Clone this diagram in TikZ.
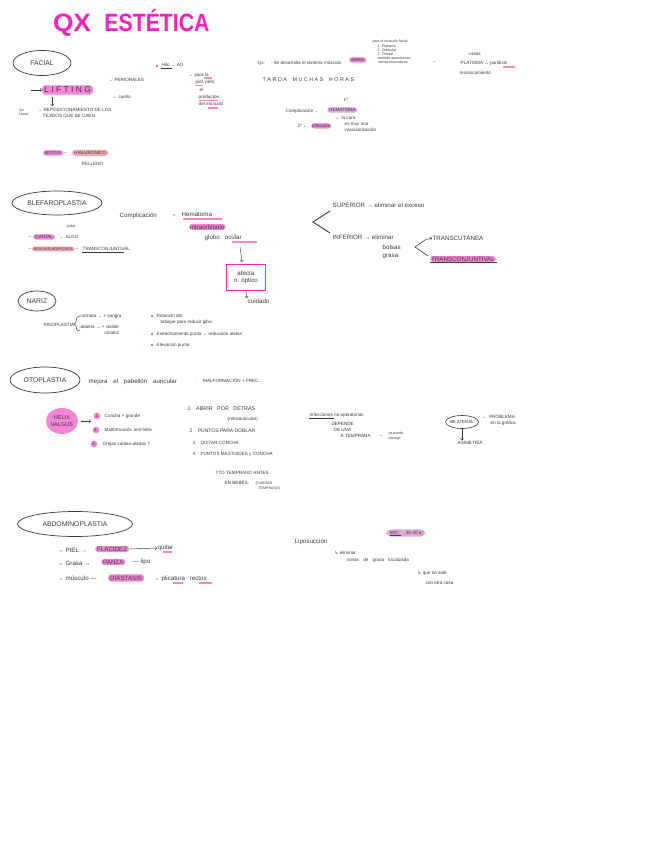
\documentclass[tikz,border=0pt]{standalone}
\usepackage{fontspec}
\setmainfont{Liberation Sans}
\newfontfamily\djv{DejaVu Sans}
\usepackage{graphicx}
\usetikzlibrary{shapes.geometric,arrows.meta}
\definecolor{ink}{HTML}{3A3A3A}
\definecolor{mag}{HTML}{FF1EC0}
\definecolor{hlp}{HTML}{F585D8}
\definecolor{hls}{HTML}{F2A9B0}
\definecolor{hll}{HTML}{E0A8D8}
\tikzset{
 tsm/.style={anchor=west,inner sep=0.5pt,text=ink,font=\fontsize{4.6}{5.8}\selectfont,align=left},
 txs/.style={anchor=west,inner sep=0.3pt,text=ink,font=\fontsize{3.6}{4.2}\selectfont,align=left},
 tmd/.style={anchor=west,inner sep=0.5pt,text=ink,font=\fontsize{6.2}{7.4}\selectfont,align=left},
 tlg/.style={anchor=west,inner sep=0.5pt,text=ink,font=\fontsize{8.5}{9.5}\selectfont},
 ttl/.style={text=mag,inner sep=0pt,anchor=base,font=\fontsize{25}{25}\selectfont\bfseries},
 hl/.style={fill=hlp,rounded corners=3pt,inner xsep=2pt,inner ysep=1.5pt},
 hs/.style={fill=hls,rounded corners=3pt,inner xsep=2pt,inner ysep=1.5pt},
 hlv/.style={fill=hll,rounded corners=3pt,inner xsep=2pt,inner ysep=1.5pt},
 ell/.style={ellipse,draw=ink,line width=0.7pt,inner sep=0pt,text=ink,font=\fontsize{6.8}{8}\selectfont},
 arr/.style={-{Straight Barb[length=1.6pt]},draw=ink,line width=0.45pt},
 lin/.style={draw=ink,line width=0.6pt},
 bul/.style={circle,fill=mag,inner sep=0pt,minimum size=2.2pt},
 ul/.style={draw=hlp,line width=1.2pt},
}
\begin{document}
\begin{tikzpicture}[x=1pt,y=-1pt]
\useasboundingbox[fill=white] (0,0) rectangle (646,848);

% title
\node[ttl] (titleqx) at (72,32) {\scalebox{1.05}[1]{QX}};
\node[ttl] (titlees) at (157,32) {\scalebox{0.85}[1]{ESTÉTICA}};

% ================= FACIAL
\node[ell,minimum width=58,minimum height=25] (facial) at (42,63) {FACIAL};
\node[tlg,hl,font=\fontsize{8.5}{9.5}\selectfont] (lift) at (42,90) {L I F T I N G};
\coordinate (liftin) at (31,90);
\draw[arr] (liftin) -- (lift.west);
\node[tsm] (peri) at (108,80) {→ PERIORALES};
\node[tsm] (cuel) at (112,97) {→ cuello};
\node[txs] (qxf) at (19,112) {Qx\\facial.};
\node[tsm] (repos) at (37,113) {→ REPOSICIONAMIENTO DE LOS\\\hspace*{5pt}TEJIDOS QUE SE CAEN};
\draw[arr] (52,97) -- (52,106);
\node[tsm,hl,inner ysep=1pt] (botox) at (43,153) {BOTOX};
\node[tsm] (botar) at (63,153) {←};
\node[tsm,hs,inner ysep=1pt] (hial) at (72,153) {HIALURÓNICO};
\node[tsm] (rell) at (81,164) {RELLENO};

\node[bul] (b1) at (157,66) {};
\node[tsm] (hilo) at (161,65) {Hilo → AO};
\draw[lin,line width=0.4pt] (161,68.5) -- (172,68.5);
\node[tsm] (parala) at (188,75) {→ para la};
\node[tsm] (piel) at (195,82) {piel, pelo};
\node[tsm] (el) at (199,90) {el};
\node[tsm] (prod) at (198,97) {productos};
\node[tsm] (delm) at (198,104) {del músculo};
\draw[ul] (204,78) -- (212,78);
\draw[ul] (195,85.5) -- (203,85.5);
\draw[ul] (199,100.5) -- (218,100.5);
\draw[ul] (208,108) -- (218,108);

\node[tsm] (qx) at (257,63) {Qx:\hspace{6pt}· Se desarrolla el sistema músculo};
\node[tsm,hl,inner ysep=1pt] (smas) at (349,60) {SMAS};
\node[tsm] (smasd) at (364,61) {:};
\node[txs] (paraelm) at (372,52) {para el músculo facial:\\\hspace*{5pt}1. Platisma\\\hspace*{5pt}2. Orbicular\\\hspace*{5pt}3. Frontal\\\hspace*{5pt}también aponeurosis\\\hspace*{6pt}temas musculares.};
\node[tsm] (arq) at (431,62) {→};
\node[tsm] (vasos) at (468,54) {vasos};
\node[tsm] (plat) at (460,63) {PLATISMA → parálisis};
\draw[ul] (503,67) -- (515,67);
\node[tsm] (recol) at (459,73) {recolocamiento};
\node[tsm,font=\fontsize{5.4}{6}\selectfont] (tarda) at (262,80) {T A R D A\hspace{4pt} M U C H A S\hspace{4pt} H O R A S};

\node[tsm] (uno) at (343,100) {1º};
\node[tsm] (compl) at (285,111) {Complicación ←};
\node[tsm,hlv,inner ysep=1pt] (hemat) at (327,110) {HEMATOMA};
\node[tsm] (dos) at (297,126) {2º ←};
\node[tsm,hl,inner ysep=0.8pt,inner xsep=1pt] (infec) at (311,126) {infección};
\node[tsm] (lacara) at (335,124) {← la cara\\\hspace*{9pt}es muy rica\\\hspace*{9pt}vascularización};

% ================= BLEFAROPLASTIA
\node[ell,minimum width=90,minimum height=24] (blef) at (57,203) {BLEFAROPLASTIA};
\node[tmd] (complb) at (119,216) {Complicación};
\node[tmd] (complar) at (171,216) {←};
\node[tmd] (hema2) at (181,214) {Hematoma};
\draw[ul] (183,219) -- (222,219);
\node[tmd,hl,inner ysep=0.6pt,inner xsep=1pt] (intra) at (189,227) {intraorbitario};
\node[tmd] (globo) at (204,238) {globo\hspace{5pt}ocular};
\draw[ul] (232,242) -- (257,242);
\node[tmd,draw=mag,line width=0.7pt,anchor=north west,inner sep=2pt,align=center,minimum width=39,minimum height=26] (nopt) at (226,264) {afecta\\n. óptico};
\draw[arr] (240,247) -- (242,262);
\node[tmd] (cuid) at (247,301) {cuidado};
\draw[arr] (nopt.south) -- (cuid.north west);

\node[txs] (quitb) at (66,227) {quitar};
\node[tsm] (ar1) at (27,237) {→};
\node[tsm,hl,inner ysep=1pt] (cantal) at (33,237) {CANTAL};
\node[tsm] (algo) at (59,237) {← ALGO};
\node[tsm] (ar2) at (27,249) {→};
\node[tsm,hs,inner ysep=1pt,font=\fontsize{4.1}{5}\selectfont] (bolsas) at (32,249) {BOLSAS ADIPOSAS};
\node[tsm] (ar3) at (75,249) {←};
\node[tsm] (transc) at (82,249) {TRANSCONJUNTIVAL};
\draw[ink,line width=0.35pt] (82,252.5) -- (124,252.5);

\node[tmd] (sup) at (332,205) {SUPERIOR → eliminar el exceso};
\node[tmd] (inf) at (332,237) {INFERIOR → eliminar};
\node[tmd] (bolg) at (382,252) {\hspace*{0pt}bolsas\\grasa};
\coordinate (apex1) at (313,222);
\draw[lin,line width=0.9pt] (330,211) -- (apex1) -- (330,233);
\node[tmd] (tcut) at (432,238) {TRANSCUTÁNEA};
\node[tmd,hl,inner ysep=0.6pt,inner xsep=1pt] (tconj) at (430,259) {TRANSCONJUNTIVAL};
\draw[ink,line width=0.35pt] (430,262.5) -- (497,262.5);
\coordinate (apex2) at (415,247);
\draw[lin] (428,256) -- (apex2) -- (425,240);
\draw[arr] (425,240) -- (tcut.west);

% ================= NARIZ
\node[ell,minimum width=38,minimum height=20] (nariz) at (37,301) {NARIZ};
\node[tsm] (rino) at (43,325) {RINOPLASTIA};
\draw[lin,line width=0.5pt] (80,316) .. controls (74,316) and (78,324) .. (74,324) .. controls (78,324) and (74,331) .. (80,331);
\node[tsm] (cerr) at (80,316) {cerrada → + sangra};
\node[tsm] (abie) at (80,330) {abierta → + visible\\\hspace*{24pt}cicatriz};

\node[bul] (nb1) at (152,316) {};
\node[tsm] (rot) at (156,316) {Rotación del};
\node[tsm] (tab) at (160,322) {tabique para reducir giba.};
\node[bul] (nb2) at (152,334) {};
\node[tsm] (estr) at (156,334) {Estrechamiento punta → reducción aletas};
\node[bul] (nb3) at (152,345) {};
\node[tsm] (elev) at (156,345) {Elevación punta};

% ================= OTOPLASTIA
\node[ell,minimum width=70,minimum height=26] (oto) at (45,380) {OTOPLASTIA};
\node[tmd] (mej) at (88,382) {mejora\hspace{4pt} el\hspace{4pt} pabellón\hspace{4pt} auricular};
\node[tsm] (malf) at (195,381) {·\hspace{6pt}MALFORMACIÓN + FREC.};
\node[ellipse,fill=hlp,minimum width=32,minimum height=26,inner sep=0pt,text=ink,font=\fontsize{5.6}{6.4}\selectfont,align=center] (helix) at (62,421) {HELIX\\VALGUS};
\coordinate (helixto) at (91,421);
\draw[arr] (81,421) -- (helixto);
\node[circle,fill=hlp,inner sep=0.6pt,text=ink,font=\fontsize{4.6}{5}\selectfont] (n1) at (97,416) {1.};
\node[tsm] (o1) at (104,416) {Concha + grande};
\node[circle,fill=hlp,inner sep=0.6pt,text=ink,font=\fontsize{4.6}{5}\selectfont] (n2) at (96,430) {2.};
\node[tsm] (o2) at (104,430) {Malformación anti-hélix};
\node[circle,fill=hlp,inner sep=0.6pt,text=ink,font=\fontsize{4.6}{5}\selectfont] (n3) at (94,444) {3.};
\node[tsm] (o3) at (102,444) {Orejas caídas-aladas ?};

\node[tmd,font=\fontsize{5.4}{6.5}\selectfont] (p1) at (187,408) {1\hspace{4pt} ABRIR\hspace{3pt} POR\hspace{3pt} DETRÁS};
\node[tsm] (p1b) at (227,419) {(retroauricular)};
\node[tsm,font=\fontsize{5}{6}\selectfont] (p2) at (189,431) {2\hspace{4pt} PUNTOS PARA DOBLAR};
\node[tsm] (p3) at (192,443) {3\hspace{4pt} QUITAR CONCHA};
\node[tsm] (p4) at (192,454) {4\hspace{4pt} PUNTOS MASTOIDES y CONCHA};
\node[tsm] (tto) at (215,473) {TTO TEMPRANO ANTES};
\node[tsm] (bebe) at (224,483) {EN BEBÉS.};
\node[txs] (meses) at (255,486) {(5 MESES\\\hspace*{3pt}TEMPRANO)};

\node[tsm] (infq) at (309,415) {Infecciones no operatorias};
\draw[ink,line width=0.35pt] (309,418.5) -- (334,418.5);
\node[tsm] (dep) at (325,430) {·\hspace{3pt} DEPENDE\\\hspace*{8pt}DE UNA\\\hspace*{15pt}A TEMPRANA};
\node[tsm] (corr) at (378,436) {→};
\node[txs] (sep) at (388,436) {se puede\\corregir};

\node[ellipse,draw=ink,line width=0.6pt,minimum width=32,minimum height=13,inner sep=0pt,text=ink,font=\fontsize{4.4}{5}\selectfont] (bilat) at (462,422) {BILATERAL};
\node[tsm] (probl) at (481,420) {→\hspace{3pt}PROBLEMA\\\hspace*{9pt}en la gráfica};
\node[tsm] (asim) at (457,443) {ASIMETRÍA};
\draw[arr] (bilat.south) -- (asim.north -| bilat.south);

% ================= ABDOMINOPLASTIA
\node[ell,minimum width=115,minimum height=25] (abdo) at (75,524) {ABDOMINOPLASTIA};
\node[tmd] (piel2) at (57,550) {→ PIEL →};
\node[tmd,hl,inner ysep=0.8pt] (flac) at (95,549) {FLACIDEZ};
\node[tmd] (quit) at (157,548) {quitar};
\draw[arr] (flac.east) -- (quit.west);
\draw[ul] (163,552) -- (172,552);
\node[tmd] (grasa) at (57,563) {→ Grasa →};
\node[tmd,hl,inner ysep=0.8pt] (panza) at (101,562) {PANZA};
\node[tmd] (lipo) at (132,562) {— lipo};
\node[tmd] (musc) at (57,578) {→ músculo —};
\node[tmd,hl,inner ysep=0.8pt] (diast) at (108,578) {DIÁSTASIS};
\node[tmd] (plic) at (153,579) {→ plicatura\hspace{3pt} rectos};
\draw[ul] (173,583) -- (183,583);
\draw[ul] (199,583) -- (212,583);

\node[tmd] (lipos) at (294,542) {Liposucción};
\node[tsm,hlv,inner ysep=2pt,inner xsep=4pt,rounded corners=5pt] (imc) at (386,533) {IMC\hspace{6pt} 20-30 a};
\draw[ink,line width=0.35pt] (390,535.5) -- (401,535.5);
\node[tsm] (elim) at (334,553) {{\djv ↳} eliminar};
\node[tsm] (zonas) at (346,560) {zonas\hspace{3pt} de\hspace{3pt} grasa\hspace{3pt} localizada};
\node[tsm] (quenos) at (417,573) {{\djv ↳} que no sale};
\node[tsm] (conotra) at (425,583) {con otra cosa};
\end{tikzpicture}
\end{document}
